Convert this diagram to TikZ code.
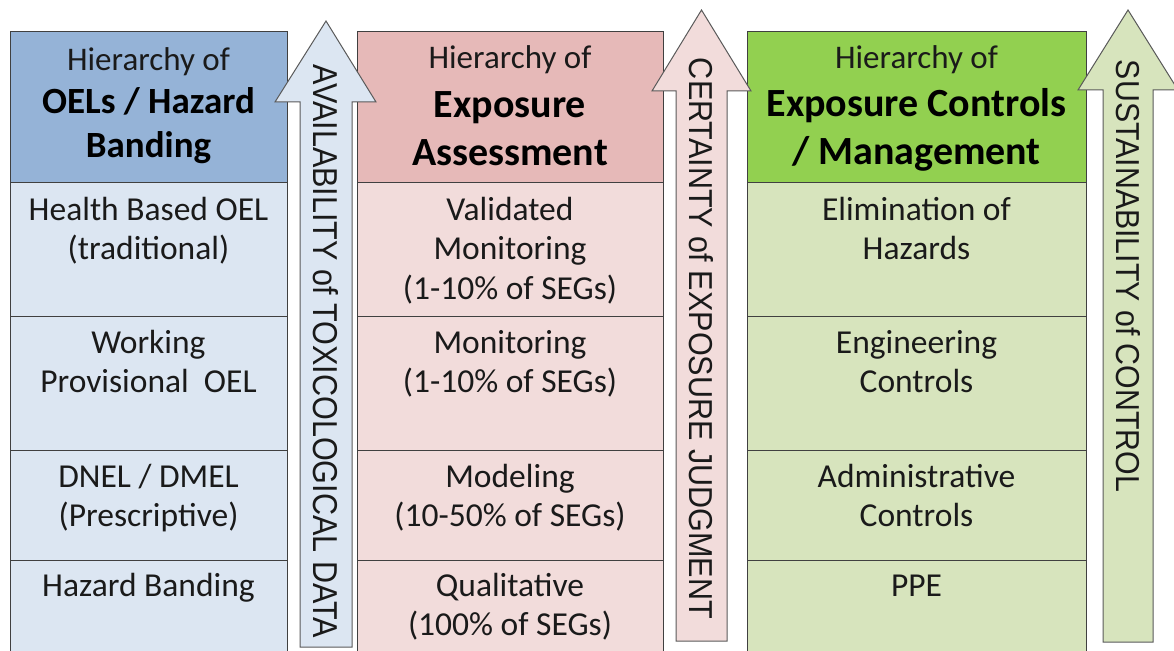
\documentclass[tikz,border=0pt]{standalone}
\usepackage{fontspec}
\usepackage{graphicx}
\setmainfont{Carlito}
\newfontfamily\arrowfont{Liberation Sans}

\definecolor{hdrA}{HTML}{95B3D7}
\definecolor{bodyA}{HTML}{DCE6F2}
\definecolor{hdrB}{HTML}{E6B9B8}
\definecolor{bodyB}{HTML}{F2DCDB}
\definecolor{hdrC}{HTML}{92D050}
\definecolor{bodyC}{HTML}{D7E4BD}
\definecolor{gridline}{HTML}{404040}
\definecolor{arrowline}{HTML}{5A5A5A}
\definecolor{ink}{HTML}{1A1A1A}

\begin{document}
\begin{tikzpicture}[x=1pt,y=-1pt,
  cellbox/.style={draw=gridline, line width=1pt, inner sep=0pt, anchor=north west},
  celltext/.style={anchor=north, inner sep=0pt, align=center, text=ink,
    font=\fontsize{33.5}{39.5}\selectfont},
  hdrtext/.style={anchor=north, inner sep=0pt, align=center, text=ink,
    font=\fontsize{33}{39.5}\selectfont},
  boldA/.style={anchor=north, inner sep=0pt, align=center, text=black,
    font=\bfseries\fontsize{37}{44}\selectfont},
  boldB/.style={anchor=north, inner sep=0pt, align=center, text=black,
    font=\bfseries\fontsize{40}{48}\selectfont},
  uparrow/.style={draw=arrowline, line width=1pt, line join=miter},
  arrowtext/.style={inner sep=0pt, rotate=-90, text=ink, font=\arrowfont}
]
\useasboundingbox (0,0) rectangle (1174,650);
\clip (0,0) rectangle (1174,650);

% ---- column 1: OELs / hazard banding ----
\node[cellbox, fill=hdrA,  minimum width=277pt, minimum height=151pt] (hA) at (10,31) {};
\node[cellbox, fill=bodyA, minimum width=277pt, minimum height=134pt] (a1) at (10,182) {};
\node[cellbox, fill=bodyA, minimum width=277pt, minimum height=134pt] (a2) at (10,316) {};
\node[cellbox, fill=bodyA, minimum width=277pt, minimum height=110pt] (a3) at (10,450) {};
\node[cellbox, fill=bodyA, minimum width=277pt, minimum height=110pt] (a4) at (10,560) {};

% ---- column 2: exposure assessment ----
\node[cellbox, fill=hdrB,  minimum width=306pt, minimum height=151pt] (hB) at (357,31) {};
\node[cellbox, fill=bodyB, minimum width=306pt, minimum height=134pt] (b1) at (357,182) {};
\node[cellbox, fill=bodyB, minimum width=306pt, minimum height=134pt] (b2) at (357,316) {};
\node[cellbox, fill=bodyB, minimum width=306pt, minimum height=110pt] (b3) at (357,450) {};
\node[cellbox, fill=bodyB, minimum width=306pt, minimum height=110pt] (b4) at (357,560) {};

% ---- column 3: exposure controls ----
\node[cellbox, fill=hdrC,  minimum width=339pt, minimum height=151pt] (hC) at (747,31) {};
\node[cellbox, fill=bodyC, minimum width=339pt, minimum height=134pt] (c1) at (747,182) {};
\node[cellbox, fill=bodyC, minimum width=339pt, minimum height=134pt] (c2) at (747,316) {};
\node[cellbox, fill=bodyC, minimum width=339pt, minimum height=110pt] (c3) at (747,450) {};
\node[cellbox, fill=bodyC, minimum width=339pt, minimum height=110pt] (c4) at (747,560) {};

% ---- header texts ----
\node[hdrtext] (hAt) at (148.5,42.4) {\strut Hierarchy of};
\node[boldA]   (hAb) at (148.5,82.2) {\strut OELs / Hazard\\Banding};
\node[hdrtext] (hBt) at (510,40.4) {\strut Hierarchy of};
\node[boldB]   (hBb) at (510,83.4) {\strut Exposure\\Assessment};
\node[hdrtext] (hCt) at (916.5,40.4) {\strut Hierarchy of};
\node[boldB]   (hCb) at (916.5,82.4) {\strut Exposure Controls\\/ Management};

% ---- body texts ----
\node[celltext] (a1t) at (148.5,192.4) {\strut Health Based OEL\\(traditional)};
\node[celltext] (a2t) at (148.5,325.4) {\strut Working\\Provisional\ \ OEL};
\node[celltext] (a3t) at (148.5,459.4) {\strut DNEL / DMEL\\(Prescriptive)};
\node[celltext] (a4t) at (148.5,568.4) {\strut Hazard Banding};

\node[celltext] (b1t) at (510,192.4) {\strut Validated\\Monitoring\\(1-10\% of SEGs)};
\node[celltext] (b2t) at (510,325.4) {\strut Monitoring\\(1-10\% of SEGs)};
\node[celltext] (b3t) at (510,459.4) {\strut Modeling\\(10-50\% of SEGs)};
\node[celltext] (b4t) at (510,568.4) {\strut Qualitative\\(100\% of SEGs)};

\node[celltext] (c1t) at (916.5,192.4) {\strut Elimination of\\Hazards};
\node[celltext] (c2t) at (916.5,325.4) {\strut Engineering\\Controls};
\node[celltext] (c3t) at (916.5,459.4) {\strut Administrative\\Controls};
\node[celltext] (c4t) at (916.5,568.4) {\strut PPE};

% ---- upward arrows between and beside the columns ----
\draw[uparrow, fill=bodyA] (300,647) -- (300,102) -- (275,102) -- (326,21)
  -- (376,102) -- (352,102) -- (352,647) -- cycle;
\draw[uparrow, fill=bodyB] (676,641) -- (676,91) -- (652,91) -- (701.5,10)
  -- (751,91) -- (727,91) -- (727,641) -- cycle;
\draw[uparrow, fill=bodyC] (1103,642) -- (1103,90) -- (1078,90) -- (1128,10)
  -- (1178,90) -- (1153,90) -- (1153,642) -- cycle;

\node[arrowtext] (arA) at (325.5,351.5)
  {\resizebox{573pt}{25pt}{AVAILABILITY of TOXICOLOGICAL DATA}};
\node[arrowtext] (arB) at (701,338.5)
  {\resizebox{561pt}{24pt}{CERTAINTY of EXPOSURE JUDGMENT}};
\node[arrowtext] (arC) at (1128,276)
  {\resizebox{432pt}{24pt}{SUSTAINABILITY of CONTROL}};
\end{tikzpicture}
\end{document}
